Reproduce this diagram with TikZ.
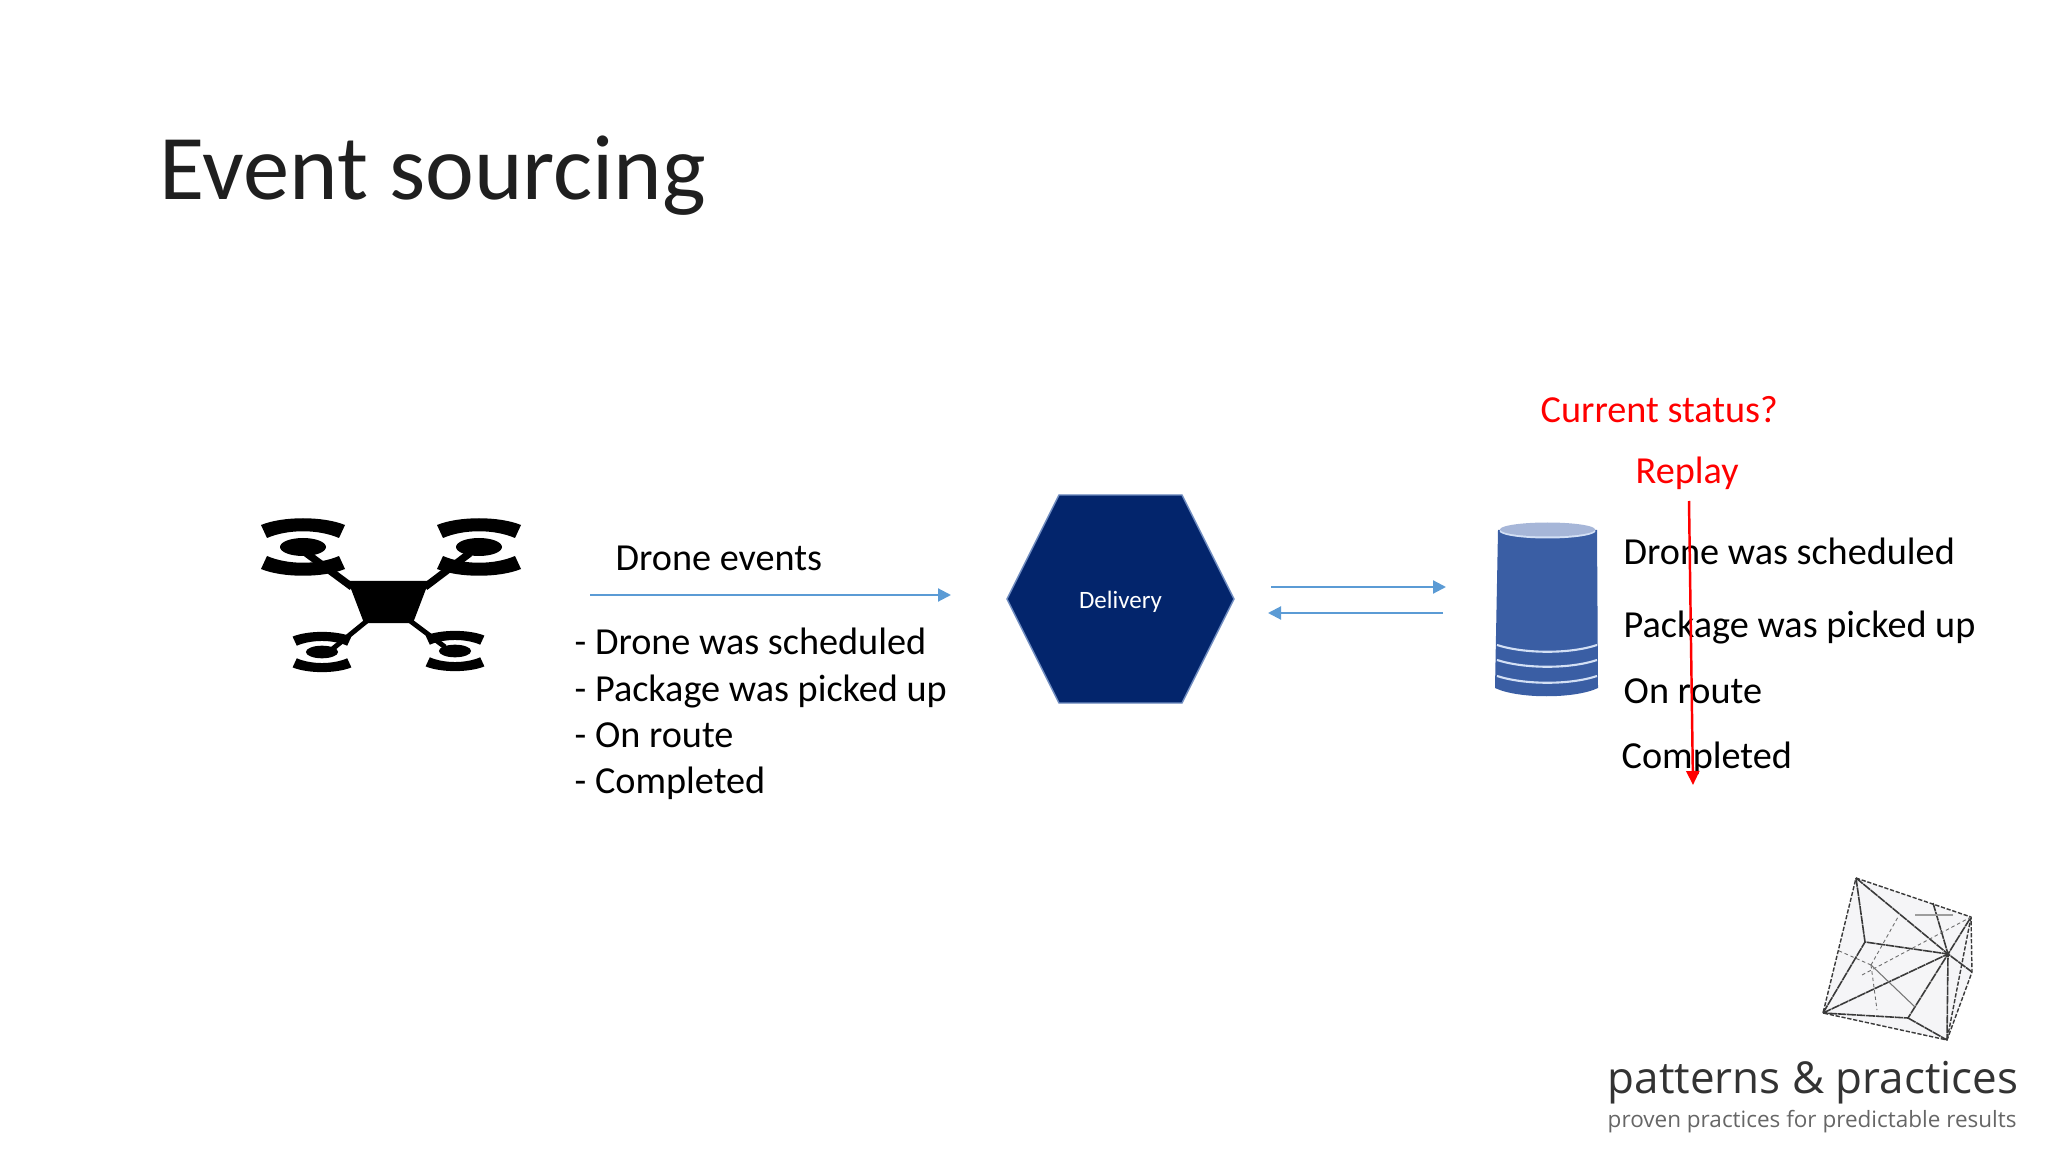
\documentclass[tikz,border=0pt]{standalone}
\usepackage{fontspec}
\setmainfont{Carlito}
\newfontfamily\logofont{Open Sans}
\usetikzlibrary{arrows.meta}
\definecolor{hexnavy}{HTML}{03256C}
\definecolor{hexedge}{HTML}{6F8CC0}
\definecolor{flowblue}{HTML}{5B9BD5}
\definecolor{dbblue}{HTML}{3A5EA4}
\definecolor{dbtop}{HTML}{A6B6D8}
\definecolor{dbline}{HTML}{D3E0F5}
\definecolor{polyfill}{HTML}{F5F5F7}
\definecolor{polyline}{HTML}{3A3A3A}
\tikzset{
  txt/.style={anchor=base west,inner sep=0pt,font=\fontsize{10.87pt}{12pt}\selectfont},
  redtxt/.style={txt,text=red},
  flow/.style={draw=flowblue,line width=0.6pt,-{Triangle[length=1.3mm,width=1.3mm]}},
  replay/.style={draw=red,line width=0.7pt,-{Triangle[length=1.4mm,width=1.3mm]}},
  polysolid/.style={draw=polyline,line width=0.45pt,dash pattern=on 2.5pt off 0.2pt},
  polydash/.style={draw=polyline,line width=0.4pt,dash pattern=on 1.2pt off 0.5pt},
  polyfaint/.style={draw=polyline!75,line width=0.25pt,dash pattern=on 1pt off 0.8pt}
}
\begin{document}
\begin{tikzpicture}[x=0.01cm,y=-0.01cm]
     \useasboundingbox (0,0) rectangle (2048,1152);

     \node[txt,font=\fontsize{26.3pt}{30pt}\selectfont,text=black!88] (title) at (159,200) {Event sourcing};

     % drone
     \fill (348,581) -- (429,581) -- (413,623) -- (364,623) -- cycle;
     \draw[line width=2.1pt] (306,553) -- (352,587);
     \draw[line width=2.1pt] (470,553) -- (425,587);
     \draw[line width=1.4pt] (330,651) -- (368,620);
     \draw[line width=1.4pt] (445,647) -- (409,620);
     \foreach \cx/\cy/\s in {303/547/1,479/547/1,322/652/0.7,455/651/0.7}{
       \begin{scope}[shift={(\cx,\cy)},scale=\s]
         \fill (0,0) ellipse [x radius=23,y radius=9];
         \fill (-42,-22) .. controls (-20,-31) and (20,-31) .. (42,-22)
               -- (36,-9) .. controls (15,-18) and (-15,-18) .. (-36,-9) -- cycle;
         \fill (-42,22) .. controls (-20,31) and (20,31) .. (42,22)
               -- (36,9) .. controls (15,18) and (-15,18) .. (-36,9) -- cycle;
       \end{scope}
     }

     \node[txt] (events) at (615,570.5) {Drone events};
     \coordinate (in1) at (590,595);
     \coordinate (in2) at (951,595);
     \draw[flow] (in1) -- (in2);

     \node[txt] (ev1) at (574,655) {- Drone was scheduled};
     \node[txt] (ev2) at (574,701) {- Package was picked up};
     \node[txt] (ev3) at (574,747) {- On route};
     \node[txt] (ev4) at (574,793.5) {- Completed};

     % delivery
     \fill[hexnavy,draw=hexedge,line width=0.4pt] (1059,495) -- (1182,495) -- (1234,599)
          -- (1182,703) -- (1059,703) -- (1007,599) -- cycle;
     \node[text=white,inner sep=0pt,font=\fontsize{7.1pt}{8pt}\selectfont] (delivery) at (1120.5,602) {Delivery};

     \coordinate (out1) at (1271,587);
     \coordinate (out2) at (1446,587);
     \coordinate (back1) at (1443,613);
     \coordinate (back2) at (1268,613);
     \draw[flow] (out1) -- (out2);
     \draw[flow] (back1) -- (back2);

     % store
     \fill[dbblue] (1498,530) -- (1597,530) -- (1598,688) .. controls (1575,699) and (1518,699) .. (1495,688) -- cycle;
     \fill[dbline] (1547.5,531) ellipse [x radius=48,y radius=7.5];
     \fill[dbtop] (1547.5,529.5) ellipse [x radius=47.5,y radius=7];
     \foreach \ly in {645,660,676}{
       \draw[dbline,line width=0.6pt] (1497,\ly) .. controls (1525,\ly+9) and (1570,\ly+9) .. (1597,\ly);
     }

     \node[redtxt] (status) at (1540,423) {Current status?};
     \node[redtxt] (again) at (1635,484) {Replay};

     \node[txt] (st1) at (1623,564.5) {Drone was scheduled};
     \node[txt] (st2) at (1623,637.5) {Package was picked up};
     \node[txt] (st3) at (1623,703) {On route};
     \node[txt] (st4) at (1621,768) {Completed};

     \coordinate (r1) at (1689,501);
     \coordinate (r2) at (1693,785);
     \draw[replay] (r1) -- (r2);

     % logo
     \coordinate (pa) at (1856,878);
     \coordinate (pb) at (1971,917);
     \coordinate (pc) at (1972,972);
     \coordinate (pd) at (1947,1040);
     \coordinate (pe) at (1823,1013);
     \coordinate (pf) at (1948,954);
     \coordinate (pg) at (1865,942);
     \coordinate (ph) at (1908,1018);
     \coordinate (pi) at (1871,965);
     \coordinate (pj) at (1933,903);
     \fill[polyfill] (pa) -- (pb) -- (pc) -- (pd) -- (pe) -- cycle;
     \draw[polydash] (pa) -- (pb) -- (pc) -- (pd) -- (pe) -- cycle;
     \draw[polydash] (pb) -- (pd);
     \draw[polysolid] (pa) -- (pf) -- (pb);
     \draw[polysolid] (pa) -- (pg) -- (pf) -- (pc);
     \draw[polysolid] (pj) -- (pf) -- (pd);
     \draw[polysolid] (pe) -- (pf) -- (ph) -- (pe);
     \draw[polysolid] (pe) -- (pg);
     \draw[polysolid] (ph) -- (pd);
     \draw[polyfaint] (1862,975) -- (pb);
     \draw[polyfaint] (pi) -- (1837,950);
     \draw[polyfaint] (pi) -- (1898,917);
     \draw[polyfaint] (pi) -- (1877,1010);
     \draw[polyline!70,line width=0.3pt] (pi) -- (1915,1007);
     \draw[polyline!50,line width=0.3pt] (1915,915) -- (1953,915);

     \node[txt,font=\logofont\fontsize{12.5pt}{14pt}\selectfont,text=black!80] (logo) at (1607,1093) {patterns \& practices};
     \node[txt,font=\logofont\fontsize{6.4pt}{8pt}\selectfont,text=black!60] (slogan) at (1607,1127) {proven practices for predictable results};
\end{tikzpicture}
\end{document}
